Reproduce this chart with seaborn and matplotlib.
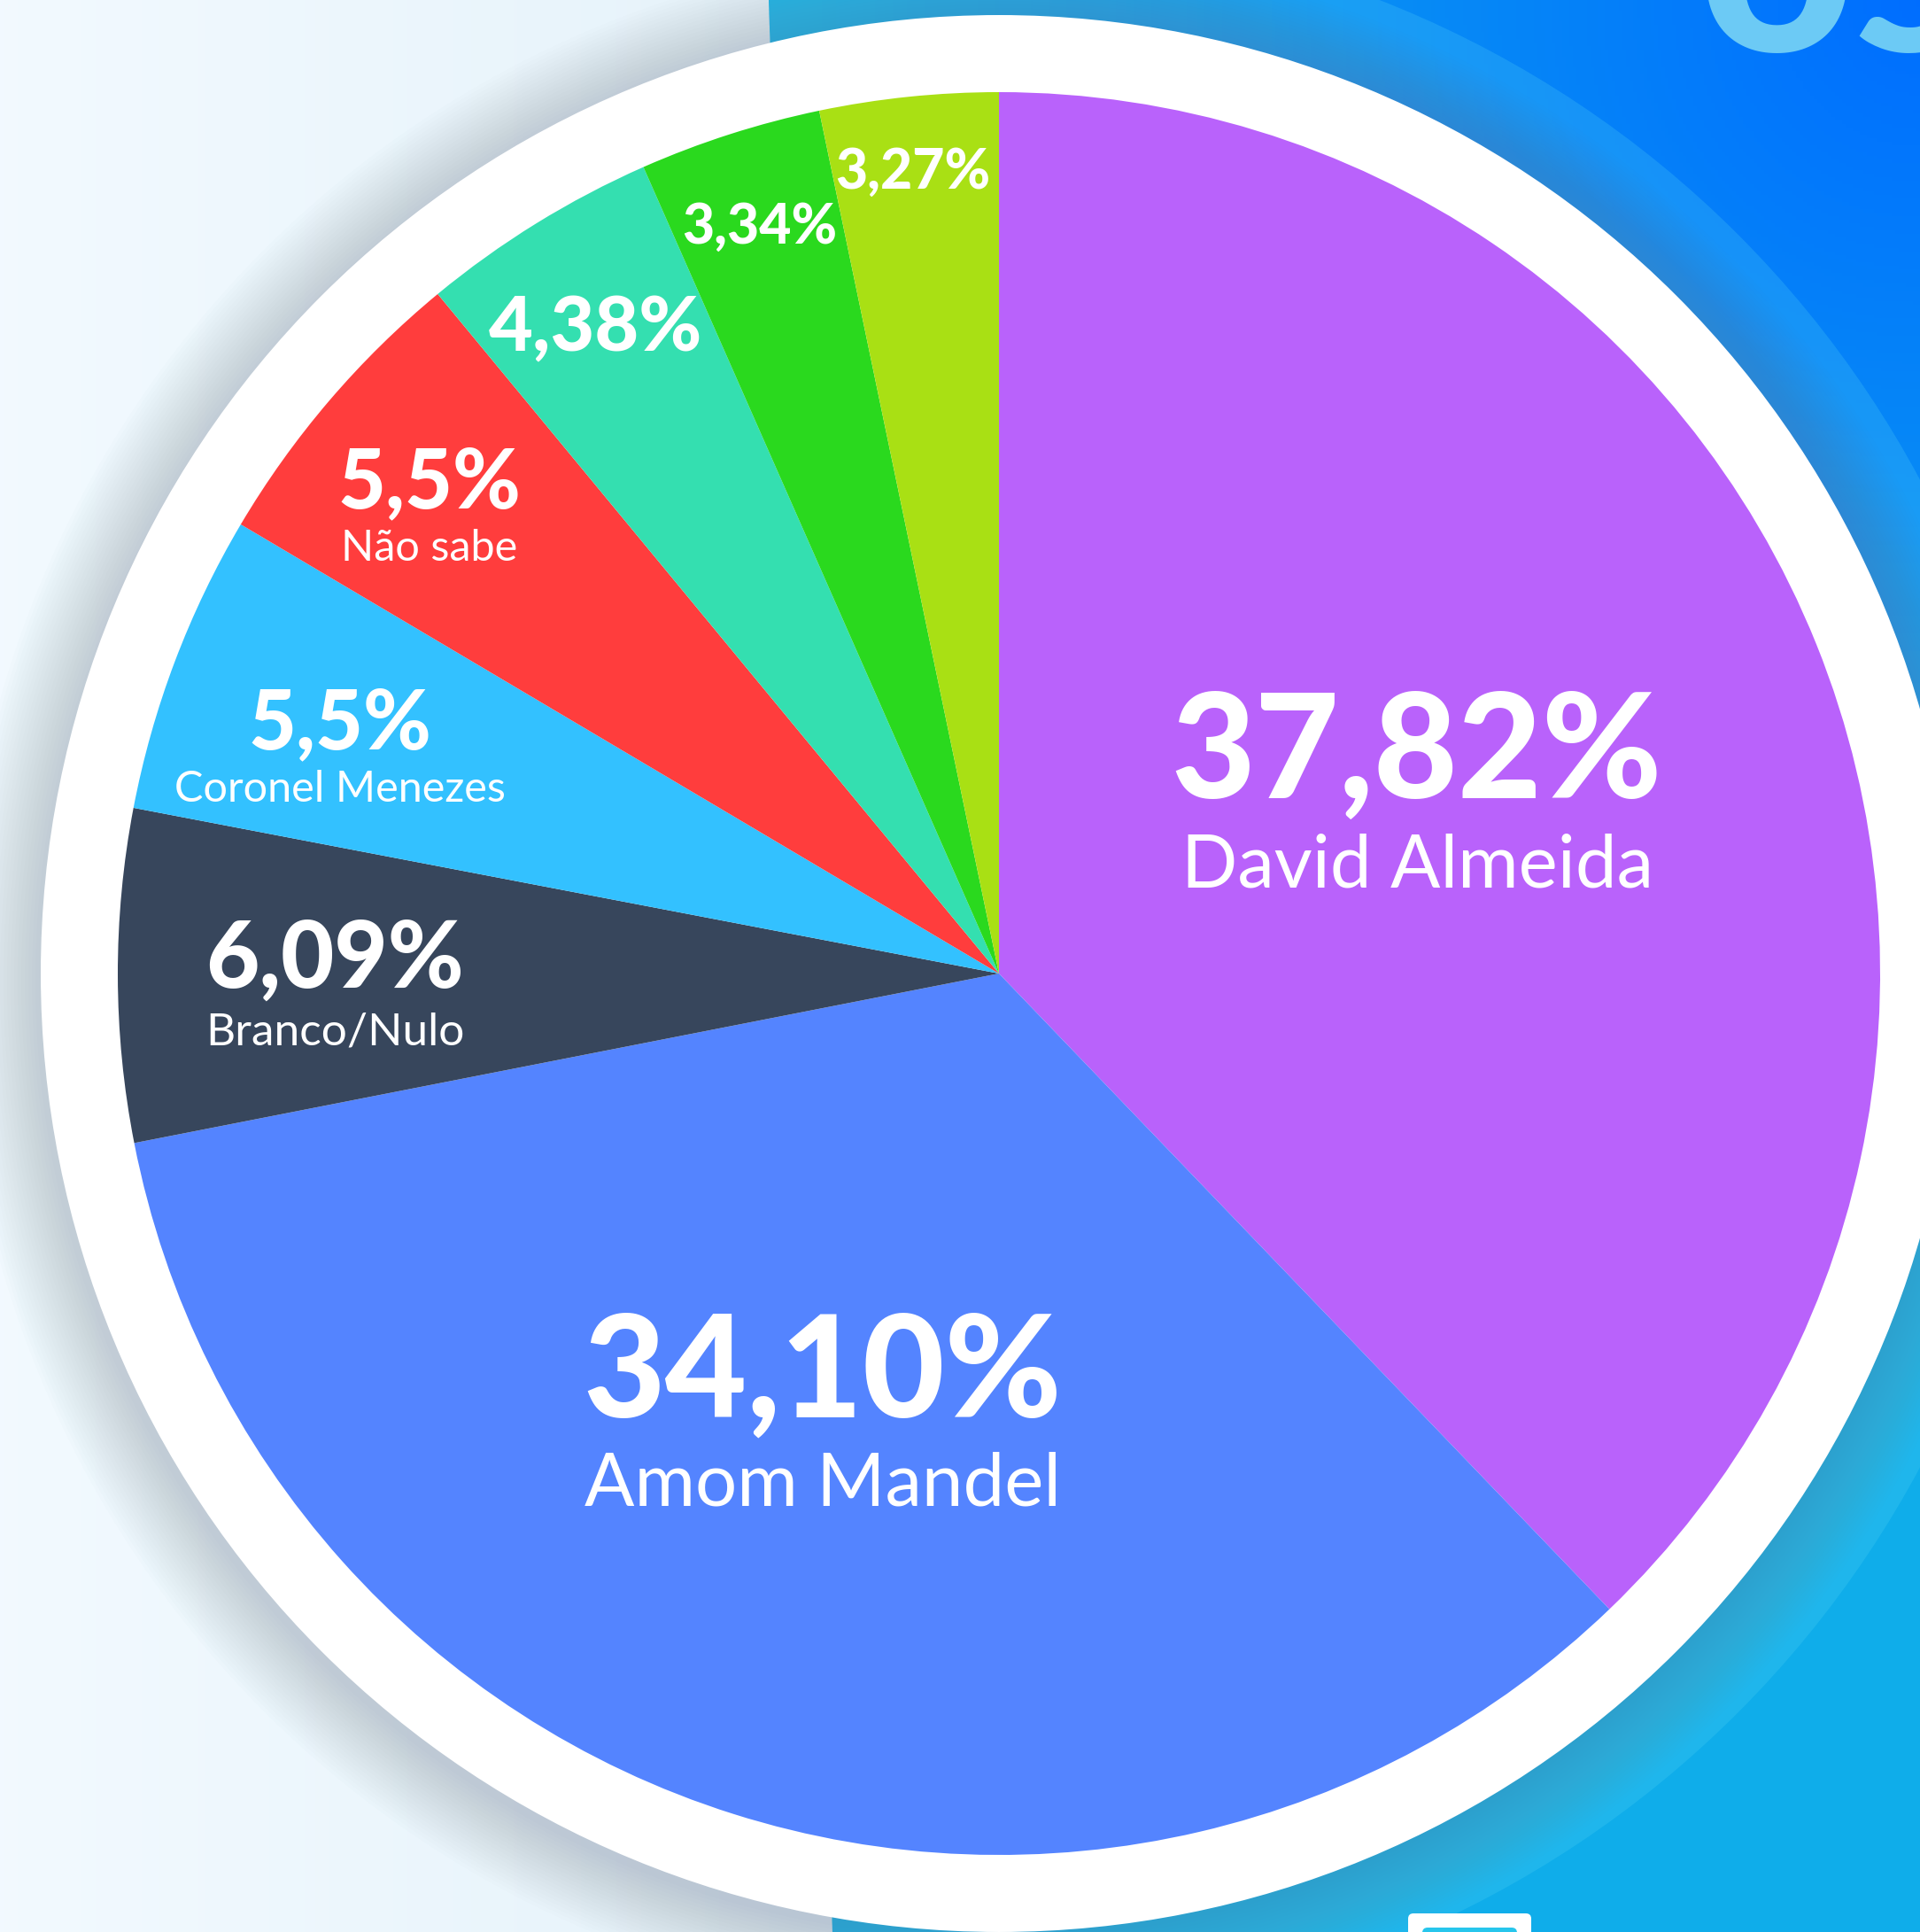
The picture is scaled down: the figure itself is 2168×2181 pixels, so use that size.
import numpy as np
import matplotlib
matplotlib.use("Agg")
import matplotlib.pyplot as plt
import seaborn as sns
from matplotlib.patches import Circle, Polygon, FancyBboxPatch

# --- data -------------------------------------------------------------
shares = [37.82, 34.10, 6.09, 5.5, 5.5, 4.38, 3.34, 3.27]
share_labels = ["37,82%", "34,10%", "6,09%", "5,5%", "5,5%", "4,38%", "3,34%", "3,27%"]
names = ["David Almeida", "Amom Mandel", "Branco/Nulo", "Coronel Menezes", "Não sabe", "", "", ""]
slice_colors = ["#b962fb", "#5484ff", "#37465c", "#33c1ff",
                "#ff3d3d", "#34dfb0", "#2ad91e", "#a9e014"]

# --- layout (image pixels, y measured from the top) ---------------------
W, H = 2168, 2181
cx, cy = 1128, 1099
pie_r = 995
ring_r = 1082
label_xy = [(1600, 901), (929, 1599), (378, 1115), (384, 845),
            (485, 573), (673, 396), (858, 275), (1031, 213)]
pct_size = [118, 115, 75, 67, 67, 62, 45, 45]
name_size = [60, 60, 37, 35, 35, 0, 0, 0]
name_gap = [100, 100, 64, 60, 60, 0, 0, 0]

sns.set_theme(style="white")
plt.rcParams['font.family'] = ['Lato', 'DejaVu Sans']

fig = plt.figure(figsize=(W / 100, H / 100), dpi=100)
fig.patch.set_facecolor("#eef6fc")
ax = fig.add_axes([0, 0, 1, 1])
ax.set_facecolor("#eef6fc")

# light backdrop on the left
yy, xx = np.mgrid[0:H:4, 0:W:4]
light = np.zeros(xx.shape + (3,))
t = np.clip(xx / 900.0, 0, 1)[..., None]
light[:] = (1 - t) * np.array([0.95, 0.98, 1.0]) + t * np.array([0.90, 0.95, 0.98])
ax.imshow(light, extent=(0, W, 0, H), origin="upper", zorder=0)

# blue panel on the right
corner = np.sqrt((xx - W) ** 2 + (yy - 0) ** 2)
w = np.clip(1 - corner / 1250.0, 0, 1)[..., None]
cyan = np.array([0.06, 0.68, 0.92])
deep = np.array([0.0, 0.43, 1.0])
blue = (1 - w) * cyan + w * deep
panel = Polygon([(868, H), (W, H), (W, 0), (940, 0)], closed=True,
                transform=ax.transData, facecolor="none", edgecolor="none")
ax.add_patch(panel)
im = ax.imshow(blue, extent=(0, W, 0, H), origin="upper", zorder=1)
im.set_clip_path(panel)

# lighter halo around the ring
halo = Circle((cx, H - cy), 1180, facecolor="#5ad8f6", alpha=0.22,
              edgecolor="none", zorder=2)
ax.add_patch(halo)
halo.set_clip_path(panel)

# soft shadow
for k in range(22):
    ax.add_patch(Circle((cx - 6, H - cy - 8), ring_r + 4 * k,
                        facecolor="#6b879c", alpha=0.014, edgecolor="none", zorder=3))

# white ring
ax.add_patch(Circle((cx, H - cy), ring_r, facecolor="white", edgecolor="none", zorder=4))

# pie
wedges, _ = ax.pie(shares, colors=slice_colors, startangle=90, counterclock=False,
                   radius=pie_r, center=(cx, H - cy),
                   wedgeprops=dict(linewidth=0))
for wd in wedges:
    wd.set_zorder(5)

for i, lab in enumerate(share_labels):
    x, y = label_xy[i]
    ax.text(x, H - y, lab, ha="center", va="baseline", color="white",
            fontsize=pct_size[i], fontweight="black", zorder=6)
    if names[i]:
        ax.text(x, H - y - name_gap[i], names[i], ha="center", va="baseline",
                color="white", fontsize=name_size[i], fontweight="normal", zorder=6)

# cropped title in the top-right corner
ax.text(1918, H - 58, "os", ha="left", va="baseline", color="#6ccaf5",
        fontsize=220, fontweight="black", zorder=2)

# small card at the bottom edge
ax.add_patch(FancyBboxPatch((1590, -30), 139, 51,
                            boxstyle="round,pad=0,rounding_size=6",
                            facecolor="white", edgecolor="none", zorder=4))
ax.add_patch(FancyBboxPatch((1606, -20), 107, 25,
                            boxstyle="round,pad=0,rounding_size=6",
                            facecolor="#27c6ec", edgecolor="none", zorder=4))

ax.set_xlim(0, W)
ax.set_ylim(0, H)
ax.set_aspect("auto")
ax.axis("off")

fig.savefig("out.png", dpi=100, facecolor=fig.get_facecolor())
